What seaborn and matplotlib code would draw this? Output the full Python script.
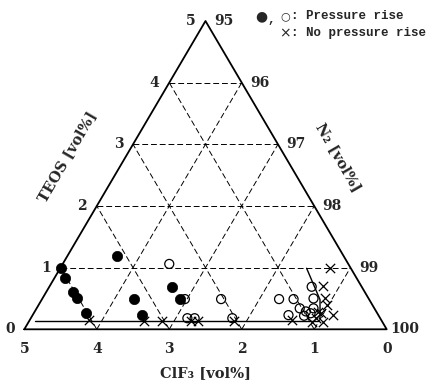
import numpy as np
import pandas as pd
import seaborn as sns
import matplotlib.pyplot as plt

# Ternary data: (ClF3 [vol%], TEOS [vol%]), N2 is the rest up to 100
filled_clf3 = [3.12, 4.00, 4.02, 4.03, 4.02, 4.01, 3.24, 3.25, 2.62, 2.60]
filled_teos = [1.19, 1.00, 0.83, 0.60, 0.50, 0.27, 0.49, 0.24, 0.68, 0.49]

open_clf3 = [2.47, 2.54, 2.04, 2.66, 2.56, 2.04, 1.24, 1.04, 0.69, 1.24,
             0.76, 1.03, 0.97, 0.84, 0.92, 1.03]
open_teos = [1.06, 0.49, 0.49, 0.18, 0.18, 0.18, 0.49, 0.49, 0.69, 0.23,
             0.50, 0.34, 0.29, 0.34, 0.26, 0.22]

cross_clf3 = [0.29, 4.03, 3.28, 3.03, 2.63, 2.54, 2.04, 1.23, 0.97, 0.88,
              0.77, 0.62, 0.63, 0.60, 0.52, 0.81, 0.82]
cross_teos = [0.99, 0.15, 0.14, 0.14, 0.14, 0.14, 0.14, 0.15, 0.12, 0.18,
              0.26, 0.23, 0.40, 0.50, 0.71, 0.28, 0.12]

# boundary lines drawn in the original figure
bound_h_clf3 = [4.78, 0.88]
bound_h_teos = [0.14, 0.14]
bound_v_clf3 = [0.61, 0.68, 0.83]
bound_v_teos = [0.99, 0.48, 0.18]

ticks = [0, 1, 2, 3, 4, 5]
teos_labels = ['0', '1', '2', '3', '4', '5']
n2_labels = ['100', '99', '98', '97', '96', '95']
clf3_labels = ['0', '1', '2', '3', '4', '5']


def tern(clf3, teos):
    clf3 = np.asarray(clf3, dtype=float)
    teos = np.asarray(teos, dtype=float)
    return 5 - clf3 - teos / 2, teos


sns.set_style("white")
serif = ['DejaVu Serif']

W, H = 436, 386
fig = plt.figure(figsize=(W / 100, H / 100), dpi=100)
x0, x1, yb, yt = 24.3, 386.7, 329.3, 21.0
ax = fig.add_axes([x0 / W, 1 - yb / H, (x1 - x0) / W, (yb - yt) / H])
ax.set_xlim(0, 5)
ax.set_ylim(0, 5)
ax.axis('off')

# triangle frame
fx, fy = tern([5, 0, 0, 5], [0, 5, 0, 0])
ax.plot(fx, fy, color='black', lw=1.3, clip_on=False)

# dashed grid
dash = dict(color='black', lw=0.7, ls=(0, (6, 3)), clip_on=False)
for k in range(1, 5):
    gx, gy = tern([5 - k, 0], [k, k])          # constant TEOS
    ax.plot(gx, gy, **dash)
    gx, gy = tern([k, k], [0, 5 - k])          # constant ClF3
    ax.plot(gx, gy, **dash)
    gx, gy = tern([5 - k, 0], [0, 5 - k])      # constant N2
    ax.plot(gx, gy, **dash)

# boundary lines
bx, by = tern(bound_h_clf3, bound_h_teos)
ax.plot(bx, by, color='black', lw=1.0)
bx, by = tern(bound_v_clf3, bound_v_teos)
ax.plot(bx, by, color='black', lw=1.0)

# data points
px, py = tern(filled_clf3, filled_teos)
sns.scatterplot(x=px, y=py, ax=ax, marker='o', s=55, color='black',
                edgecolor='black', linewidth=0.5, zorder=4)
px, py = tern(open_clf3, open_teos)
sns.scatterplot(x=px, y=py, ax=ax, marker='o', s=42, facecolor='none',
                edgecolor='black', linewidth=0.9, zorder=5)
px, py = tern(cross_clf3, cross_teos)
sns.scatterplot(x=px, y=py, ax=ax, marker='x', s=45, color='black',
                linewidth=0.9, zorder=5)

# tick labels
tfont = dict(family=serif, fontweight='bold', fontsize=10)
for t, lab in zip(ticks, teos_labels):
    lx, ly = tern(5 - t, t)
    ax.annotate(lab, (lx, ly), xytext=(-10.5, 0), textcoords='offset points',
                ha='center', va='center', annotation_clip=False, **tfont)
for t, lab in zip(ticks, n2_labels):
    lx, ly = tern(0, t)
    ax.annotate(lab, (lx, ly), xytext=(13, 0), textcoords='offset points',
                ha='center', va='center', annotation_clip=False, **tfont)
for t, lab in zip(ticks, clf3_labels):
    lx, ly = tern(t, 0)
    ax.annotate(lab, (lx, ly), xytext=(0, -14), textcoords='offset points',
                ha='center', va='center', annotation_clip=False, **tfont)

# axis titles
lfont = dict(family=serif, fontweight='bold', fontsize=10.5)
fig.text(67 / W, 1 - 157 / H, 'TEOS [vol%]', rotation=60, ha='center',
         va='center', **lfont)
fig.text(338 / W, 1 - 157 / H, 'N\u2082 [vol%]', rotation=-60, ha='center',
         va='center', **lfont)
fig.text(205 / W, 1 - 373 / H, 'ClF\u2083 [vol%]', ha='center',
         va='center', **lfont)

# legend written as text
mono = dict(family=['Liberation Mono', 'DejaVu Sans Mono'], fontweight='bold',
            fontsize=9)
fig.text(261 / W, 1 - 16 / H, '\u25cf', ha='center', va='center',
         family='DejaVu Sans', fontsize=10)
fig.text(271 / W, 1 - 20 / H, ',', ha='center', va='center', **mono)
fig.text(285 / W, 1 - 16 / H, '\u25cb', ha='center', va='center',
         family='DejaVu Sans', fontsize=8)
fig.text(291 / W, 1 - 16 / H, ': Pressure rise', ha='left', va='center', **mono)
fig.text(285 / W, 1 - 33 / H, '\u00d7', ha='center', va='center',
         family='DejaVu Sans', fontsize=10)
fig.text(291 / W, 1 - 33 / H, ': No pressure rise', ha='left', va='center',
         **mono)

fig.savefig('out.png', dpi=100)
